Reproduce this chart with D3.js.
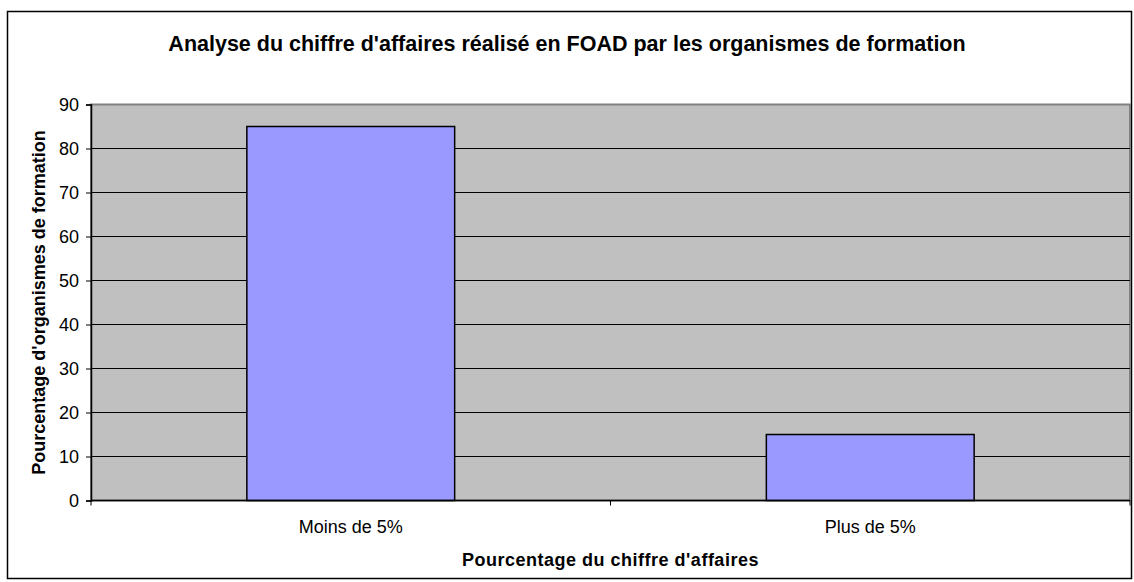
<!DOCTYPE html>
<html>
<head>
<meta charset="utf-8">
<script src="https://cdn.jsdelivr.net/npm/d3@7"></script>
<style>
  body { margin: 0; background: #fff; }
  svg { font-family: "Liberation Sans", Arial, sans-serif; }
</style>
</head>
<body>
<svg id="chart"></svg>
<script>
const categories = ['Moins de 5%', 'Plus de 5%'];
const values = [85, 15];
const yTicks = [0, 10, 20, 30, 40, 50, 60, 70, 80, 90];

const width = 1134, height = 582;
const margin = {top: 104.5, right: 4, bottom: 81.5, left: 91};
const innerW = width - margin.left - margin.right;
const innerH = height - margin.top - margin.bottom;

const svg = d3.select('#chart')
    .attr('width', width)
    .attr('height', height);

// outer frame
svg.append('rect')
    .attr('x', 7.5).attr('y', 11.5)
    .attr('width', 1124).attr('height', 567)
    .attr('fill', '#fff')
    .attr('stroke', '#000')
    .attr('stroke-width', 1.5);

svg.append('text')
    .attr('x', 567).attr('y', 51)
    .attr('text-anchor', 'middle')
    .attr('font-size', 21.5)
    .attr('font-weight', 'bold')
    .text("Analyse du chiffre d'affaires réalisé en FOAD par les organismes de formation");

const chart = svg.append('g')
    .attr('transform', `translate(${margin.left},${margin.top})`);

const xScale = d3.scaleBand()
    .domain(categories)
    .range([0, innerW])
    .paddingInner(0.6)
    .paddingOuter(0.3);

const yScale = d3.scaleLinear()
    .domain([0, 90])
    .range([innerH, 0]);

// plot background
chart.append('rect')
    .attr('width', innerW).attr('height', innerH)
    .attr('fill', '#c0c0c0')
    .attr('stroke', '#808080')
    .attr('stroke-width', 2);

// gridlines
chart.selectAll('.grid')
    .data(yTicks.slice(1, -1))
    .join('line')
    .attr('class', 'grid')
    .attr('x1', 0).attr('x2', innerW)
    .attr('y1', d => yScale(d)).attr('y2', d => yScale(d))
    .attr('stroke', '#000')
    .attr('stroke-width', 1);

// bars
chart.selectAll('.bar')
    .data(values)
    .join('rect')
    .attr('class', 'bar')
    .attr('x', (d, i) => xScale(categories[i]))
    .attr('y', d => yScale(d))
    .attr('width', xScale.bandwidth())
    .attr('height', d => innerH - yScale(d))
    .attr('fill', '#9999ff')
    .attr('stroke', '#000')
    .attr('stroke-width', 1.5);

// y axis
const yAxis = d3.axisLeft(yScale).tickValues(yTicks).tickSize(5).tickPadding(7);
const yAxisG = chart.append('g').call(yAxis);
yAxisG.select('.domain').attr('stroke', '#000').attr('stroke-width', 1.5);
yAxisG.selectAll('.tick line').attr('stroke', '#000');
yAxisG.selectAll('text').attr('font-size', 18).attr('fill', '#000')
    .attr('font-family', '"Liberation Sans", Arial, sans-serif');

// x axis line and category separators
const xG = chart.append('g').attr('transform', `translate(0,${innerH})`);
xG.append('line')
    .attr('x1', 0).attr('x2', innerW)
    .attr('stroke', '#000').attr('stroke-width', 1.5);
xG.selectAll('.sep')
    .data(d3.range(categories.length + 1))
    .join('line')
    .attr('class', 'sep')
    .attr('x1', i => i * innerW / categories.length)
    .attr('x2', i => i * innerW / categories.length)
    .attr('y1', 0).attr('y2', 5)
    .attr('stroke', '#000');
xG.selectAll('.lbl')
    .data(categories)
    .join('text')
    .attr('class', 'lbl')
    .attr('x', d => xScale(d) + xScale.bandwidth() / 2)
    .attr('y', 32.5)
    .attr('text-anchor', 'middle')
    .attr('font-size', 18)
    .text(d => d);

// axis titles
svg.append('text')
    .attr('x', margin.left + innerW / 2).attr('y', 566)
    .attr('text-anchor', 'middle')
    .attr('font-size', 18)
    .attr('font-weight', 'bold')
    .attr('letter-spacing', 0.5)
    .text("Pourcentage du chiffre d'affaires");

svg.append('text')
    .attr('transform', `translate(45,${margin.top + innerH / 2}) rotate(-90)`)
    .attr('text-anchor', 'middle')
    .attr('font-size', 18)
    .attr('font-weight', 'bold')
    .text("Pourcentage d'organismes de formation");
</script>
</body>
</html>
